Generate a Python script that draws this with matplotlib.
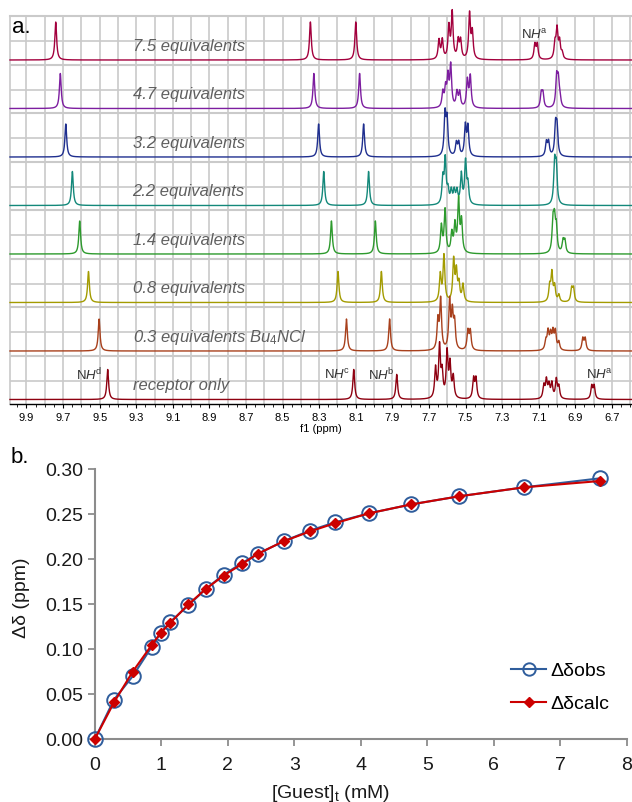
import numpy as np
import matplotlib
matplotlib.use('Agg')
import matplotlib.pyplot as plt
from matplotlib.ticker import FixedLocator, MultipleLocator

plt.rcParams['font.family'] = ['Liberation Sans', 'DejaVu Sans']
plt.rcParams['mathtext.fontset'] = 'custom'
plt.rcParams['mathtext.rm'] = 'Liberation Sans'
plt.rcParams['mathtext.it'] = 'Liberation Sans:italic'
plt.rcParams['mathtext.bf'] = 'Liberation Sans:bold'

# ---------------- data: panel a (peak position ppm, intensity) ----------------
trace_labels = ['7.5 equivalents', '4.7 equivalents', '3.2 equivalents',
                '2.2 equivalents', '1.4 equivalents', '0.8 equivalents',
                '0.3 equivalents Bu$_{\\mathit{4}}$NCl', 'receptor only']

peaks_7_5 = [(9.740, 38), (8.348, 38), (8.100, 38), (7.645, 19), (7.627, 19),
             (7.591, 32), (7.573, 46), (7.540, 18), (7.527, 18), (7.478, 45),
             (7.463, 26), (7.121, 15), (7.108, 15), (7.011, 15), (7.000, 29),
             (6.986, 17), (6.972, 6)]
peaks_4_7 = [(9.715, 35), (8.329, 35), (8.079, 35), (7.624, 15), (7.609, 18),
             (7.596, 29), (7.581, 41), (7.547, 15), (7.532, 15), (7.490, 27),
             (7.474, 31), (7.086, 14), (7.077, 14), (7.002, 29), (6.993, 25),
             (6.984, 9)]
peaks_3_2 = [(9.685, 33), (8.303, 33), (8.057, 33), (7.612, 41), (7.601, 35),
             (7.550, 13), (7.537, 13), (7.501, 30), (7.487, 29), (7.058, 14),
             (7.046, 14), (7.008, 29), (7.000, 27)]
peaks_2_2 = [(9.649, 34), (8.275, 34), (8.030, 34), (7.624, 25), (7.611, 44),
             (7.596, 13), (7.578, 13), (7.562, 13), (7.547, 13), (7.523, 30),
             (7.500, 42), (7.487, 19), (7.013, 40), (7.004, 36)]
peaks_1_4 = [(9.609, 33), (8.233, 33), (7.993, 33), (7.632, 27), (7.612, 43),
             (7.575, 19), (7.558, 27), (7.538, 52), (7.522, 31), (7.022, 29),
             (7.014, 29), (7.004, 24), (6.967, 12), (6.957, 12)]
peaks_0_8 = [(9.561, 31), (8.197, 31), (7.960, 31), (7.638, 27), (7.618, 46),
             (7.565, 41), (7.550, 29), (7.536, 17), (7.514, 17), (7.040, 15),
             (7.028, 28), (7.013, 15), (6.990, 7), (6.920, 13), (6.910, 13)]
peaks_0_3 = [(9.503, 32), (8.151, 32), (7.915, 32), (7.651, 29), (7.636, 50),
             (7.587, 48), (7.572, 35), (7.560, 26), (7.487, 19), (7.474, 19),
             (7.061, 9), (7.049, 18), (7.035, 15), (7.022, 17), (7.009, 18),
             (6.990, 8), (6.859, 12), (6.846, 12)]
peaks_receptor = [(9.456, 30), (8.111, 30), (7.876, 25), (7.664, 30), (7.642, 51),
                  (7.628, 24), (7.601, 45), (7.585, 33), (7.567, 21), (7.456, 20),
                  (7.443, 20), (7.072, 13), (7.058, 18), (7.044, 13), (7.028, 15),
                  (7.004, 19), (6.990, 12), (6.810, 13), (6.797, 13)]
trace_peaks = [peaks_7_5, peaks_4_7, peaks_3_2, peaks_2_2,
               peaks_1_4, peaks_0_8, peaks_0_3, peaks_receptor]

nh_labels = ['N$\\mathit{H}^{\\mathrm{d}}$', 'N$\\mathit{H}^{\\mathrm{c}}$',
             'N$\\mathit{H}^{\\mathrm{b}}$', 'N$\\mathit{H}^{\\mathrm{a}}$',
             'N$\\mathit{H}^{\\mathrm{a}}$']
nh_ppm = [9.63, 8.275, 8.035, 6.842, 7.195]
nh_trace = [7, 7, 7, 7, 0]

ppm_ticks = [9.9, 9.7, 9.5, 9.3, 9.1, 8.9, 8.7, 8.5, 8.3, 8.1, 7.9, 7.7, 7.5,
             7.3, 7.1, 6.9, 6.7]

# ---------------- data: panel b ----------------
guest_mM = [0, 0.29, 0.57, 0.86, 0.99, 1.13, 1.41, 1.67, 1.94, 2.22, 2.45,
            2.84, 3.24, 3.61, 4.12, 4.76, 5.48, 6.46, 7.60]
dd_obs = [0, 0.044, 0.070, 0.103, 0.118, 0.130, 0.149, 0.167, 0.183, 0.196,
          0.206, 0.220, 0.232, 0.241, 0.251, 0.261, 0.270, 0.280, 0.290]
dd_calc = [0, 0.041, 0.075, 0.105, 0.118, 0.129, 0.150, 0.167, 0.182, 0.195,
           0.206, 0.220, 0.231, 0.240, 0.251, 0.261, 0.270, 0.280, 0.287]

# ---------------- styles ----------------
trace_colors = ['#a3003d', '#7d1ea0', '#1f2f8f', '#13887a', '#2d9a2d',
                '#a39b00', '#a8401c', '#8e0010']
grid_c = '#cacaca'

fig = plt.figure(figsize=(6.32, 8.02), dpi=100)

# ---------------- panel a ----------------
W, H = 632.0, 802.0
axa = fig.add_axes([10 / W, 1 - 404 / H, 622 / W, 388 / H])
ppm = np.linspace(9.99, 6.59, 7000)
gamma = 0.0058
pitch = 48.5
top = 388.0

for v in np.arange(6.6, 9.95, 0.1):
    axa.axvline(v, color=grid_c, lw=1.2, zorder=1)

for i, (peaks, col, lab) in enumerate(zip(trace_peaks, trace_colors, trace_labels)):
    border = top - pitch * i
    base = border - 44
    if i > 0:
        axa.axhline(border, color=grid_c, lw=1.5, zorder=1)
    axa.axhline(border - 25, color=grid_c, lw=1.2, zorder=1)
    y = np.zeros_like(ppm)
    for p, h in peaks:
        y += h / (1 + ((ppm - p) / gamma) ** 2)
    axa.plot(ppm, base + y, color=col, lw=1.0, zorder=3, clip_on=False)
    axa.text(9.32, base + 14, lab, fontsize=12, style='italic', color='#5f5f5f',
             ha='left', va='center', zorder=4)

for lab, p, ti in zip(nh_labels, nh_ppm, nh_trace):
    base = top - pitch * ti - 44
    axa.text(p, base + 25, lab, fontsize=9.5, color='#333333', ha='left',
             va='center', zorder=5)

axa.set_xlim(9.99, 6.59)
axa.set_ylim(0, top)
axa.set_yticks([])
axa.xaxis.set_major_locator(FixedLocator(ppm_ticks))
axa.xaxis.set_minor_locator(MultipleLocator(0.05))
axa.set_xticklabels(['%.1f' % t for t in ppm_ticks])
axa.tick_params(axis='x', which='major', direction='out', length=3, width=0.8,
                labelsize=8, pad=3.5, colors='black')
axa.tick_params(axis='x', which='minor', direction='out', length=2, width=0.6)
axa.set_xlabel('f1 (ppm)', fontsize=8, labelpad=1)
axa.spines['right'].set_visible(False)
axa.spines['top'].set_color(grid_c)
axa.spines['top'].set_linewidth(1.5)
axa.spines['left'].set_color(grid_c)
axa.spines['left'].set_linewidth(1.2)
axa.spines['bottom'].set_linewidth(1.0)

fig.text(12 / W, 1 - 33 / H, 'a.', fontsize=16, va='baseline', ha='left')
fig.text(11 / W, 1 - 463 / H, 'b.', fontsize=16, va='baseline', ha='left')

# ---------------- panel b ----------------
blue = '#2f5d9c'
red = '#cc0000'
axb = fig.add_axes([94.7 / W, 1 - 739.3 / H, 532 / W, 270 / H])
axb.plot(guest_mM, dd_obs, color=blue, lw=1.5, marker='o', ms=10.5, mfc='none',
         mec=blue, mew=1.4, clip_on=False, zorder=3, label='Δδobs')
axb.plot(guest_mM, dd_calc, color=red, lw=1.5, marker='D', ms=5.5, mfc=red,
         mec=red, clip_on=False, zorder=4, label='Δδcalc')
axb.set_xlim(0, 8)
axb.set_ylim(0, 0.30)
axb.set_xticks(range(0, 9))
yt = np.arange(0, 0.301, 0.05)
axb.set_yticks(yt)
axb.set_yticklabels(['%.2f' % v for v in yt])
for s in ['top', 'right']:
    axb.spines[s].set_visible(False)
for s in ['left', 'bottom']:
    axb.spines[s].set_color('#8c8c8c')
    axb.spines[s].set_linewidth(1.5)
axb.tick_params(direction='out', length=5, width=1.3, color='#8c8c8c',
                labelsize=14, labelcolor='#1a1a1a')
axb.tick_params(axis='x', pad=7.5)
axb.tick_params(axis='y', pad=3)
axb.set_xlabel('[Guest]$_\\mathrm{t}$ (mM)', fontsize=14, color='#1a1a1a')
axb.set_ylabel('Δδ (ppm)', fontsize=14, color='#1a1a1a')
axb.xaxis.set_label_coords((331 - 94.7) / 532, -(793 - 739.3) / 270)
axb.yaxis.set_label_coords(-(94.7 - 22) / 532, (739.3 - 598) / 270)
axb.xaxis.label.set_va('center')
axb.yaxis.label.set_va('center')
axb.yaxis.label.set_ha('center')
axb.legend(loc='upper left', bbox_to_anchor=(511 / W, 1 - 662 / H),
           bbox_transform=fig.transFigure, frameon=False, borderpad=0,
           borderaxespad=0, handlelength=1.8, handletextpad=0.25,
           labelspacing=0.8, fontsize=14, markerscale=0.85)

fig.savefig('out.png', dpi=100)
